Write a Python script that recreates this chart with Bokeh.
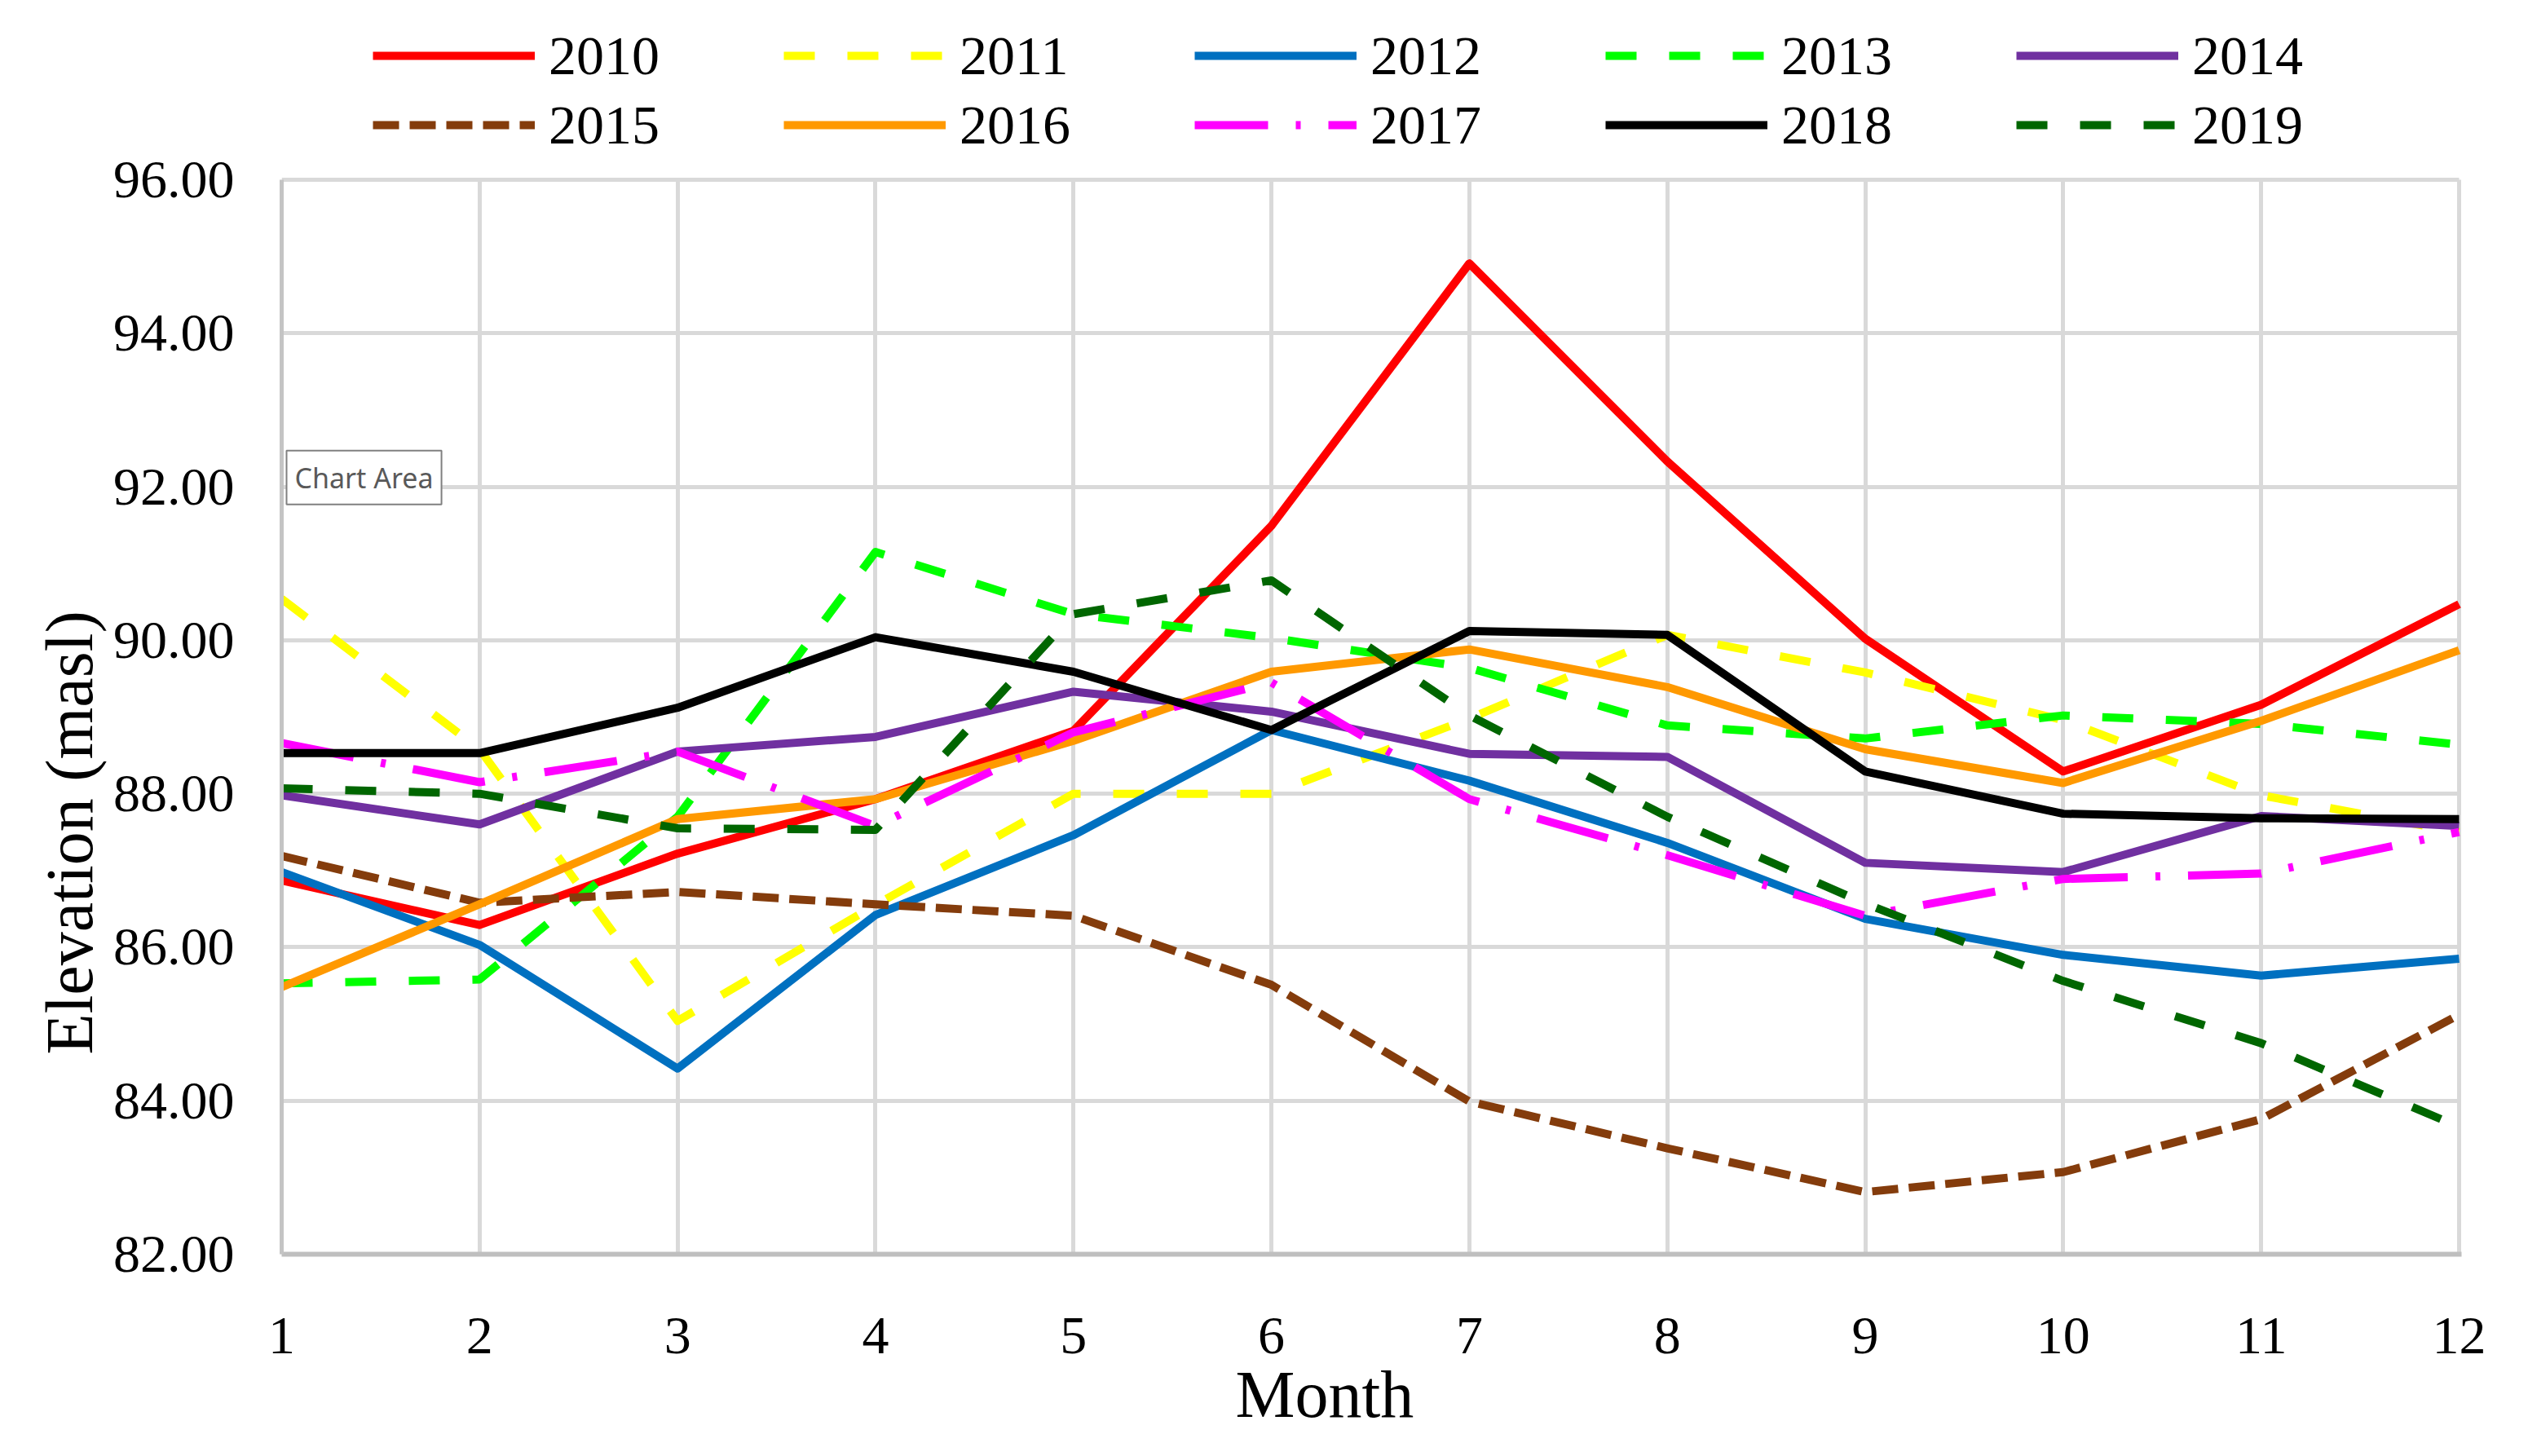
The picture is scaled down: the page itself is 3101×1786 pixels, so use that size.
from bokeh.plotting import figure
from bokeh.models import Legend, LegendItem, FixedTicker, NumeralTickFormatter, Title, Label, Range1d
from bokeh.embed import file_html
from bokeh.resources import INLINE

months = [1, 2, 3, 4, 5, 6, 7, 8, 9, 10, 11, 12]
y_ticks = [82, 84, 86, 88, 90, 92, 94, 96]

y2010 = [86.87, 86.29, 87.22, 87.93, 88.82, 91.49, 94.91, 92.33, 90.02, 88.29, 89.16, 90.47]
y2011 = [90.54, 88.58, 85.04, 86.55, 88.00, 88.00, 88.98, 90.07, 89.58, 88.96, 87.98, 87.50]
y2012 = [86.98, 86.03, 84.42, 86.42, 87.46, 88.83, 88.17, 87.36, 86.37, 85.90, 85.63, 85.85]
y2013 = [85.53, 85.58, 87.70, 91.15, 90.34, 90.03, 89.64, 88.89, 88.72, 89.02, 88.91, 88.64]
y2014 = [87.98, 87.60, 88.55, 88.74, 89.33, 89.07, 88.52, 88.48, 87.10, 86.98, 87.71, 87.58]
y2015 = [87.19, 86.58, 86.72, 86.56, 86.41, 85.51, 83.99, 83.38, 82.81, 83.07, 83.76, 85.12]
y2016 = [85.48, 86.56, 87.67, 87.93, 88.69, 89.59, 89.88, 89.39, 88.58, 88.14, 88.95, 89.87]
y2017 = [88.66, 88.15, 88.55, 87.58, 88.80, 89.45, 87.93, 87.20, 86.41, 86.89, 86.96, 87.50]
y2018 = [88.53, 88.53, 89.12, 90.04, 89.59, 88.83, 90.12, 90.07, 88.29, 87.74, 87.68, 87.67]
y2019 = [88.07, 88.00, 87.55, 87.53, 90.34, 90.78, 89.02, 87.70, 86.57, 85.56, 84.75, 83.66]

series = [
    ("2010", y2010, "#FF0000", "solid"),
    ("2011", y2011, "#FFFF00", "38 40"),
    ("2012", y2012, "#0070C0", "solid"),
    ("2013", y2013, "#00FF00", "38 40"),
    ("2014", y2014, "#7030A0", "solid"),
    ("2015", y2015, "#843C0C", "32 13"),
    ("2016", y2016, "#FF9900", "solid"),
    ("2017", y2017, "#FF00FF", "90 34 6 34"),
    ("2018", y2018, "#000000", "solid"),
    ("2019", y2019, "#006600", "38 40"),
]

FONT = "Liberation Serif"

# the frame also holds the legend rows above the 96 line
p = figure(width=3085, height=1770, x_range=Range1d(1, 12.0124), y_range=Range1d(82, 98.337),
           output_backend="svg", toolbar_location=None,
           min_border_left=345, min_border_right=66, min_border_top=0, min_border_bottom=232)
p.title.visible = False
p.background_fill_color = "white"
p.border_fill_color = "white"
p.outline_line_color = None

for ax in (p.xaxis[0], p.yaxis[0]):
    ax.major_tick_line_color = None
    ax.minor_tick_line_color = None
    ax.major_label_text_font = FONT
    ax.major_label_text_font_size = "66px"
    ax.major_label_text_color = "black"

p.xaxis.ticker = FixedTicker(ticks=months)
p.yaxis.ticker = FixedTicker(ticks=y_ticks)
p.yaxis.formatter = NumeralTickFormatter(format="0.00")
p.yaxis.bounds = (82, 96)
p.xaxis.major_label_standoff = 72
p.yaxis.major_label_standoff = 52
p.xaxis.axis_line_color = "#bfbfbf"
p.xaxis.axis_line_width = 6
p.yaxis.axis_line_color = "#c4c4c4"
p.yaxis.axis_line_width = 5

p.xgrid.ticker = FixedTicker(ticks=months)
p.ygrid.ticker = FixedTicker(ticks=y_ticks)
p.xgrid.cross_bounds = (82, 96)
p.ygrid.cross_bounds = (1, 12)
p.grid.grid_line_color = "#d9d9d9"
p.grid.grid_line_width = 5

rends = []
for name, ys, color, dash in series:
    r = p.line(months, ys, line_color=color, line_width=10, line_dash=dash, line_join="round")
    rends.append((name, r))

def make_legend(pairs, loc):
    return Legend(items=[LegendItem(label=n, renderers=[r]) for n, r in pairs],
                  orientation="horizontal", location=loc,
                  glyph_width=199, glyph_height=20, label_standoff=17,
                  label_width=222, label_height=80, spacing=66,
                  padding=0, margin=0,
                  border_line_color=None, background_fill_alpha=0,
                  label_text_font=FONT, label_text_font_size="68px", label_text_color="black")

p.add_layout(make_legend(rends[:5], (112, 1430)), "center")
p.add_layout(make_legend(rends[5:], (112, 1345)), "center")

ytitle = Title(text="Elevation (masl)", align="left", offset=245,
               text_font=FONT, text_font_size="82px", text_font_style="normal", text_color="black")
p.add_layout(ytitle, "left")
xtitle = Title(text="Month", align="left", offset=1170, standoff=0,
               text_font=FONT, text_font_size="82px", text_font_style="normal", text_color="black")
p.add_layout(xtitle, "below")

tip = Label(x=1.0, y=92.12, x_offset=6, text="Chart Area", text_font="Noto Sans", text_font_size="34px",
            text_color="#595959", text_baseline="middle", text_align="left",
            background_fill_color="white", border_line_color="#808080", border_line_width=2,
            padding=10)
p.add_layout(tip)

open("out.html", "w").write(file_html(p, INLINE))
